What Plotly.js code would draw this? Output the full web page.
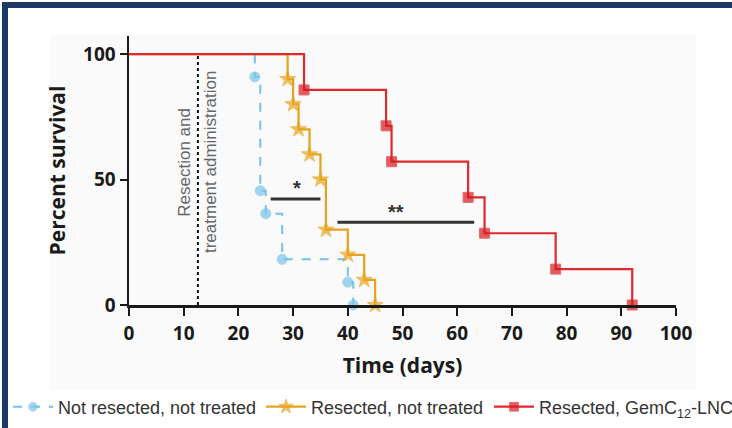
<!DOCTYPE html>
<html>
<head>
<meta charset="utf-8">
<script src="https://cdn.plot.ly/plotly-3.0.1.min.js"></script>
<style>
html,body{margin:0;padding:0;background:#fff;}
#chart{width:732px;height:428px;}
</style>
</head>
<body>
<div id="chart"></div>
<script>
// ---- data ----
const seriesNames = ["Not resected, not treated", "Resected, not treated", "Resected, GemC<sub>12</sub>-LNC"];
const blueDays = [0, 23, 24, 25, 28, 40, 41];
const blueSurv = [100, 90.9, 45.5, 36.4, 18.2, 9.1, 0];
const orangeDays = [0, 29, 30, 31, 33, 35, 36, 40, 43, 45];
const orangeSurv = [100, 90, 80, 70, 60, 50, 30, 20, 10, 0];
const redDays = [0, 32, 47, 48, 62, 65, 78, 92];
const redSurv = [100, 85.7, 71.4, 57.1, 42.9, 28.6, 14.3, 0];
const xTicks = [0, 10, 20, 30, 40, 50, 60, 70, 80, 90, 100];
const yTicks = [0, 50, 100];
const resectionDay = 12.6;

// ---- pixel helpers for frame decorations ----
const W = 732, H = 428, ML = 129, MR = 56, MT = 36, MB = 123;
const PW = W - ML - MR, PH = H - MT - MB;
const px = v => (v - ML) / PW;
const py = v => (H - MB - v) / PH;

function sizes(n, s) { return Array.from({length: n}, (_, i) => i === 0 ? 0 : s); }

const traces = [
  {
    x: blueDays, y: blueSurv, name: seriesNames[0], type: 'scatter', mode: 'lines+markers', legend: 'legend',
    line: {shape: 'hv', color: '#72c2ea', width: 2, dash: 'dash'},
    marker: {symbol: 'circle', color: '#7cc6ea', size: sizes(blueDays.length, 10)},
    cliponaxis: false
  },
  {
    x: orangeDays, y: orangeSurv, name: seriesNames[1], type: 'scatter', mode: 'lines+markers', legend: 'legend2',
    line: {shape: 'hv', color: '#e5a21e', width: 2.2},
    marker: {symbol: 'star', color: '#eba51c', size: sizes(orangeDays.length, 12)},
    cliponaxis: false
  },
  {
    x: redDays, y: redSurv, name: seriesNames[2], type: 'scatter', mode: 'lines+markers', legend: 'legend3',
    line: {shape: 'hv', color: '#e0292e', width: 2.2},
    marker: {symbol: 'square', color: '#d41a1f', size: sizes(redDays.length, 10)},
    cliponaxis: false
  }
];

const boldFont = {family: 'Open Sans, sans-serif', size: 19, color: '#1a1a1a', weight: 'bold'};
const legendFont = {family: 'Liberation Sans, Arial, sans-serif', size: 18, color: '#333'};
function legendAt(leftPx) {
  return {orientation: 'h', x: px(leftPx), xanchor: 'left', y: py(407), yanchor: 'middle',
          font: legendFont, itemwidth: 40, bgcolor: 'rgba(0,0,0,0)'};
}

const layout = {
  width: W, height: H,
  margin: {l: ML, r: MR, t: MT, b: MB, autoexpand: false},
  paper_bgcolor: '#ffffff',
  plot_bgcolor: 'rgba(0,0,0,0)',
  showlegend: true,
  xaxis: {
    range: [0, 100], tickvals: xTicks, ticktext: xTicks.map(String),
    showline: true, linewidth: 2.5, linecolor: '#1a1a1a',
    ticks: 'outside', ticklen: 8, tickwidth: 2, tickcolor: '#1a1a1a', ticklabelstandoff: 2,
    showgrid: false, zeroline: false, tickfont: boldFont,
    title: {text: 'Time (days)', font: {family: 'Open Sans, sans-serif', size: 21, color: '#1a1a1a', weight: 'bold'}, standoff: 13}
  },
  yaxis: {
    range: [0, 107.2], tickvals: yTicks, ticktext: yTicks.map(String),
    showline: true, linewidth: 2.5, linecolor: '#1a1a1a',
    ticks: 'outside', ticklen: 7, tickwidth: 2, tickcolor: '#1a1a1a',
    showgrid: false, zeroline: false, tickfont: boldFont,
    title: {text: 'Percent survival', font: {family: 'Open Sans, sans-serif', size: 21, color: '#1a1a1a', weight: 'bold'}, standoff: 12}
  },
  legend: legendAt(8),
  legend2: legendAt(261),
  legend3: legendAt(489),
  shapes: [
    // faint panel background
    {type: 'rect', xref: 'paper', yref: 'paper', x0: px(50), x1: px(696), y0: py(390), y1: py(35),
     fillcolor: '#fafafa', line: {width: 0}, layer: 'below'},
    // navy frame (top and left)
    {type: 'rect', xref: 'paper', yref: 'paper', x0: px(2), x1: px(8), y0: py(430), y1: py(2),
     fillcolor: '#1f3966', line: {width: 0}},
    {type: 'rect', xref: 'paper', yref: 'paper', x0: px(2), x1: px(734), y0: py(8), y1: py(2),
     fillcolor: '#1f3966', line: {width: 0}},
    // resection marker line
    {type: 'line', xref: 'x', yref: 'y', x0: resectionDay, x1: resectionDay, y0: 0, y1: 100,
     line: {color: '#111', width: 2, dash: 'dot'}},
    // significance bars
    {type: 'line', xref: 'x', yref: 'y', x0: 25.9, x1: 35.0, y0: 42.2, y1: 42.2, line: {color: '#333', width: 3}},
    {type: 'line', xref: 'x', yref: 'y', x0: 38.1, x1: 63.1, y0: 33.0, y1: 33.0, line: {color: '#333', width: 3}}
  ],
  annotations: [
    {x: 10.2, y: 57, xref: 'x', yref: 'y', text: 'Resection and', showarrow: false, textangle: -90,
     font: {family: 'Liberation Sans, Arial, sans-serif', size: 17, color: '#666'}},
    {x: 15.0, y: 57, xref: 'x', yref: 'y', text: 'treatment administration', showarrow: false, textangle: -90,
     font: {family: 'Liberation Sans, Arial, sans-serif', size: 17, color: '#666'}},
    {x: 30.7, y: 46.5, xref: 'x', yref: 'y', text: '*', showarrow: false,
     font: {family: 'Liberation Sans, Arial, sans-serif', size: 20, color: '#333', weight: 'bold'}},
    {x: 48.9, y: 37.0, xref: 'x', yref: 'y', text: '**', showarrow: false,
     font: {family: 'Liberation Sans, Arial, sans-serif', size: 20, color: '#333', weight: 'bold'}}
  ]
};

Plotly.newPlot('chart', traces, layout, {displayModeBar: false, staticPlot: true});
</script>
</body>
</html>
